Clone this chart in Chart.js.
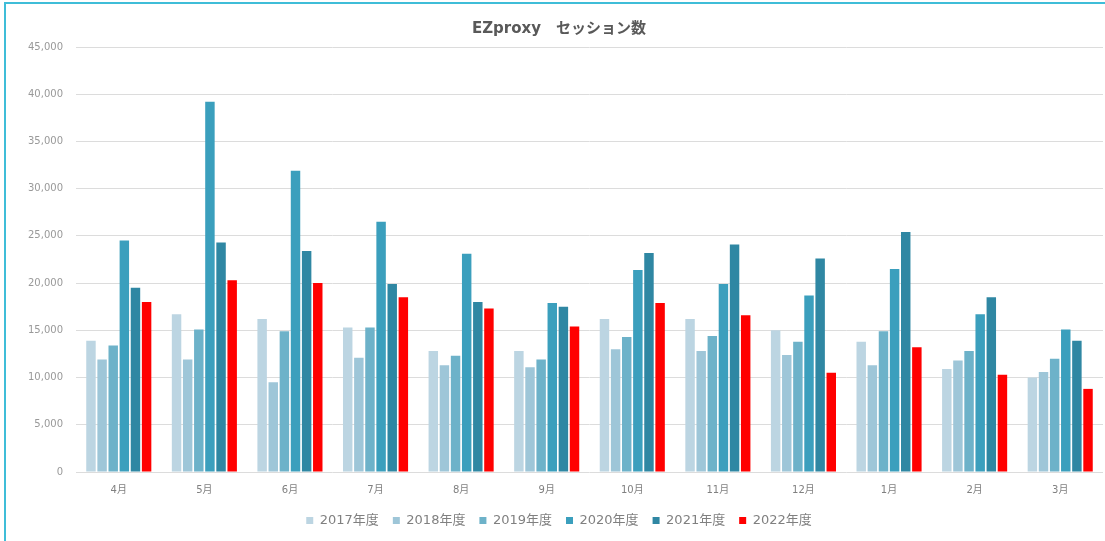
<!DOCTYPE html>
<html>
<head>
    <meta charset="utf-8">
    <title>EZproxy セッション数</title>
    <script src="https://cdn.jsdelivr.net/npm/chart.js"></script>
    <style>
        body { margin: 0; background: #fff; }
        #wrap { position: relative; width: 1105px; height: 541px; overflow: hidden; }
        #frame { position: absolute; left: 4px; top: 2px; width: 1200px; height: 700px;
                 border-top: 2px solid #3fbdd8; border-left: 2px solid #3fbdd8; }
        canvas { position: absolute; left: 0; top: 0; }
    </style>
    <script>
        const months = ['4月', '5月', '6月', '7月', '8月', '9月', '10月', '11月', '12月', '1月', '2月', '3月'];
        const yearLabels = ['2017年度', '2018年度', '2019年度', '2020年度', '2021年度', '2022年度'];
        const fy2017 = [13900, 16700, 16200, 15300, 12800, 12800, 16200, 16200, 15000, 13800, 10900, 10000];
        const fy2018 = [11900, 11900, 9500, 12100, 11300, 11100, 13000, 12800, 12400, 11300, 11800, 10600];
        const fy2019 = [13400, 15100, 14900, 15300, 12300, 11900, 14300, 14400, 13800, 14900, 12800, 12000];
        const fy2020 = [24500, 39200, 31900, 26500, 23100, 17900, 21400, 19900, 18700, 21500, 16700, 15100];
        const fy2021 = [19500, 24300, 23400, 19900, 18000, 17500, 23200, 24100, 22600, 25400, 18500, 13900];
        const fy2022 = [18000, 20300, 20000, 18500, 17300, 15400, 17900, 16600, 10500, 13200, 10300, 8800];
        const colors = ['#bcd5e2', '#9ec6d8', '#6db2c9', '#3b9fbd', '#2f87a3', '#ff0000'];

        window.onload = function() {
            const series = [fy2017, fy2018, fy2019, fy2020, fy2021, fy2022];
            const datasets = series.map((d, i) => ({
                label: yearLabels[i],
                data: d,
                backgroundColor: colors[i],
                categoryPercentage: 0.78,
                barPercentage: 0.85
            }));

            const ctx = document.getElementById('myChart').getContext('2d');
            new Chart(ctx, {
                type: 'bar',
                data: { labels: months, datasets: datasets },
                options: {
                    responsive: false,
                    animation: false,
                    layout: { padding: { left: 15, right: 2, top: 18, bottom: 4 } },
                    plugins: {
                        title: {
                            display: true,
                            text: 'EZproxy　セッション数',
                            color: '#595959',
                            font: { family: 'DejaVu Sans, Noto Sans CJK JP', size: 15, weight: 'bold' },
                            padding: { top: 2, bottom: 9 }
                        },
                        legend: {
                            position: 'bottom',
                            labels: {
                                color: '#808080',
                                font: { family: 'DejaVu Sans, Noto Sans CJK JP', size: 13 },
                                boxWidth: 7,
                                boxHeight: 7,
                                padding: 14
                            }
                        },
                        tooltip: { enabled: false }
                    },
                    scales: {
                        x: {
                            grid: { display: false },
                            border: { display: false },
                            ticks: { color: '#808080', padding: 4, font: { family: 'DejaVu Sans, Noto Sans CJK JP', size: 10 } }
                        },
                        y: {
                            min: 0,
                            max: 45000,
                            grid: { color: '#dcdcdc', drawTicks: false },
                            border: { display: false },
                            ticks: {
                                stepSize: 5000,
                                padding: 13,
                                color: '#999',
                                font: { family: 'DejaVu Sans', size: 10 },
                                callback: v => v.toLocaleString('en-US')
                            }
                        }
                    }
                }
            });
        }
    </script>
</head>
<body>
    <div id="wrap">
        <div id="frame"></div>
        <canvas id="myChart" width="1105" height="541"></canvas>
    </div>
</body>
</html>
